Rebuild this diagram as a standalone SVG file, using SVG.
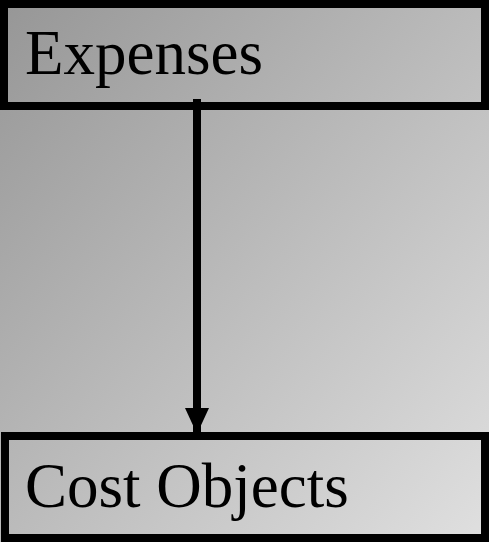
<svg xmlns="http://www.w3.org/2000/svg" width="489" height="542" viewBox="0 0 489 542">
<defs>
<linearGradient id="bg" x1="0" y1="0" x2="1" y2="1">
<stop offset="0" stop-color="#969696"/>
<stop offset="1" stop-color="#e0e0e0"/>
</linearGradient>
<marker id="ah" markerUnits="userSpaceOnUse" markerWidth="26" markerHeight="28" refX="26" refY="12" orient="auto">
<path d="M0,0 L26,12 L0,24 Z" fill="#000"/>
</marker>
<style>
.box{fill:none;stroke:#000;stroke-width:8}
.lbl{font-family:"Liberation Serif","Times New Roman",serif;font-size:63px;fill:#000}
.conn{stroke:#000;stroke-width:8;fill:none}
</style>
</defs>
<rect x="0" y="0" width="489" height="542" fill="url(#bg)"/>
<g id="connectors">
<line class="conn" x1="197" y1="99" x2="197" y2="434" marker-end="url(#ah)"/>
</g>
<g id="expenses">
<rect class="box" x="4" y="4" width="481" height="102"/>
<text class="lbl" x="25" y="74">Expenses</text>
</g>
<g id="cost-objects">
<rect class="box" x="5" y="436" width="480" height="102"/>
<text class="lbl" x="25" y="507">Cost Objects</text>
</g>
</svg>
